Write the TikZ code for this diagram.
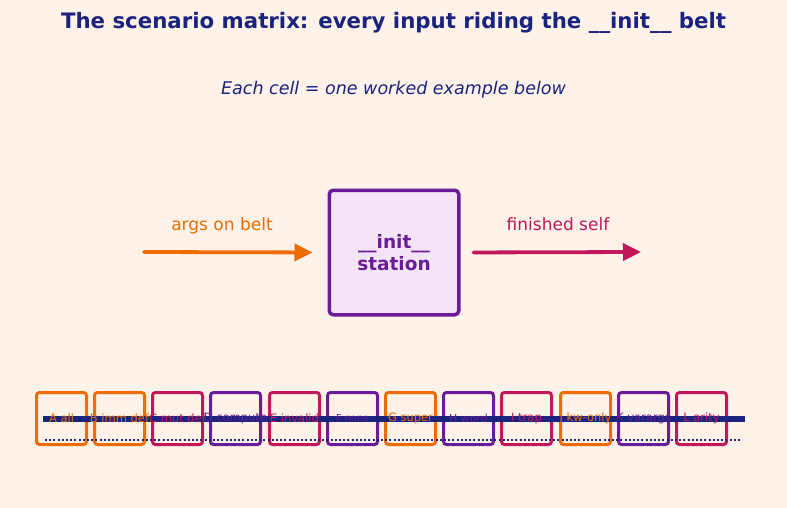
\documentclass[tikz,border=0pt]{standalone}
\usepackage{fontspec}
\setmainfont{DejaVu Sans}
\usetikzlibrary{arrows.meta}
\definecolor{bg}{HTML}{FFF2E8}
\definecolor{navy}{HTML}{1A237E}
\definecolor{purp}{HTML}{6A1B9A}
\definecolor{purpfill}{HTML}{F3E5F5}
\definecolor{orng}{HTML}{EF6C00}
\definecolor{crim}{HTML}{C2185B}
\tikzset{
  cellbox/.style={draw=#1, line width=3pt, rounded corners=3pt, minimum width=50pt, minimum height=52pt, inner sep=0pt},
  flow/.style={line width=3.8pt, line cap=round, line join=round, -{Triangle[length=18pt,width=17pt]}},
}
\begin{document}
\begin{tikzpicture}[x=1pt,y=-1pt]
\fill[bg] (0,0) rectangle (787,508);
\useasboundingbox (0,0) rectangle (787,508);
\node[text=navy, font=\fontsize{21.3}{24}\selectfont\bfseries] (title) at (393.5,23) {The scenario matrix: every input riding the \_\_init\_\_ belt};
\node[text=navy, font=\fontsize{17.5}{20}\selectfont\itshape] (sub) at (393.5,89.5) {Each cell = one worked example below};
\node[draw=purp, fill=purpfill, line width=3.5pt, rounded corners=4pt, minimum width=129.5pt, minimum height=124.5pt, align=center, text=purp, font=\fontsize{18.5}{22}\selectfont\bfseries] (box) at (394,252.5) {\_\_init\_\_\\station};
\coordinate (in) at (144,252);
\coordinate (out) at (641,252);
\draw[flow, draw=orng, fill=orng, shorten >=15pt] (in) -- (box.west);
\draw[flow, draw=crim, fill=crim, shorten <=13pt] (box.east) -- (out);
\node[text=orng, anchor=base, font=\fontsize{17}{20}\selectfont] (lin) at (222,230) {args on belt};
\node[text=crim, anchor=base, font=\fontsize{17}{20}\selectfont] (lout) at (558,230) {finished self};
\foreach \i/\x/\c in {
  A/61.5/orng, B/119.5/orng, C/177.5/crim, D/235.5/purp,
  E/294.5/crim, F/352.5/purp, G/410.5/orng, H/468.5/purp,
  I/526.5/crim, J/585.5/orng, K/643.5/purp, L/701.5/crim}{
  \node[cellbox=\c] (cell\i) at (\x,418.5) {};
}
\coordinate (beltL) at (43,419);
\coordinate (beltR) at (745,419);
\coordinate (dotL) at (45,440);
\coordinate (dotR) at (742,440);
\draw[navy, line width=6pt] (beltL) -- (beltR);
\draw[navy, line width=2pt, dash pattern=on 2pt off 2.2pt] (dotL) -- (dotR);
\foreach \i/\c/\t/\s in {
  A/orng/A all/11.5,
  B/orng/B imm def/11.5,
  C/crim/C mut def/11.5,
  D/purp/D compute/11.5,
  E/crim/E invalid/11.5,
  F/purp/F none/9.6,
  G/orng/G super/11.5,
  H/purp/H word/11,
  I/crim/I trap/11.5,
  J/orng/J kw-only/11.5,
  K/purp/K varargs/11.5,
  L/crim/L arity/11.5}{
  \node[text=\c, inner sep=0pt, font=\fontsize{\s}{13}\selectfont] (txt\i) at (cell\i) {\t};
}
\end{tikzpicture}
\end{document}
